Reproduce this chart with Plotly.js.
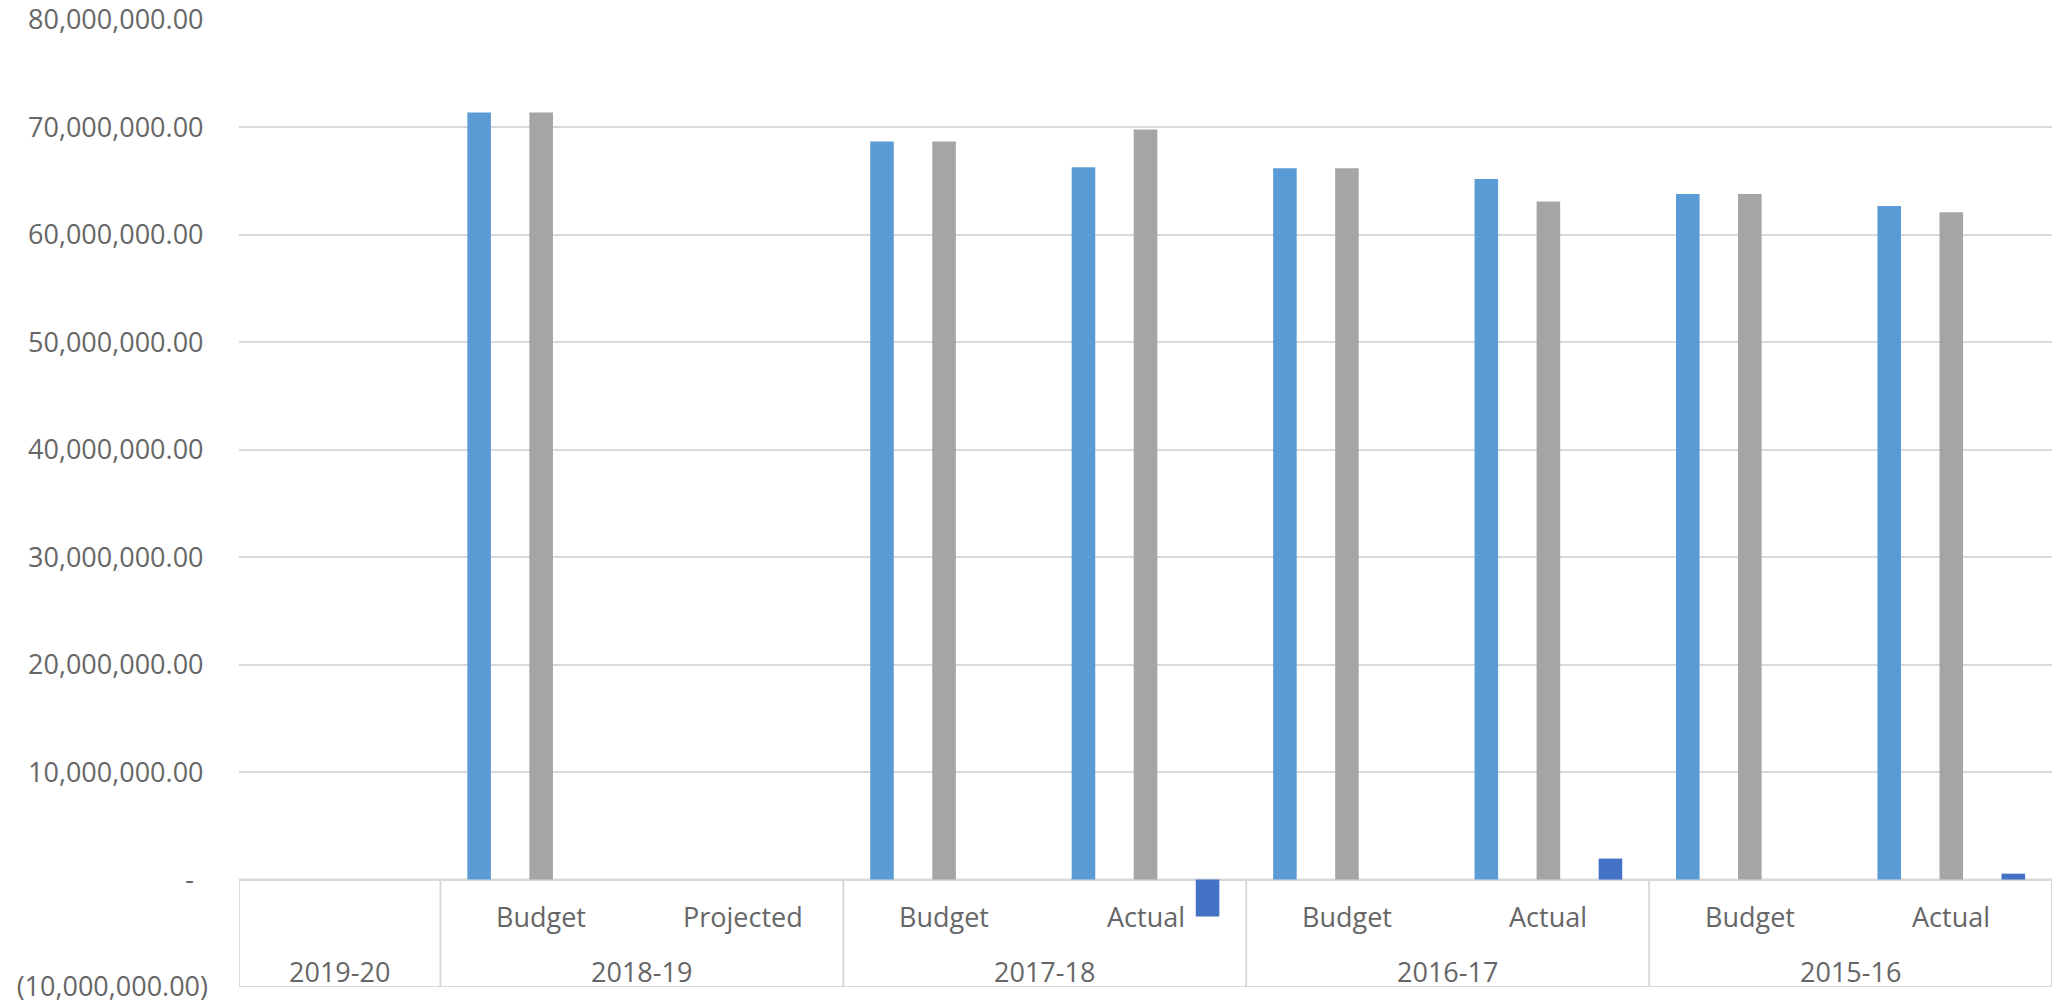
<!DOCTYPE html>
<html>
<head>
<meta charset="utf-8">
<script src="https://cdn.plot.ly/plotly-3.0.1.min.js"></script>
<style>
  html, body { margin: 0; padding: 0; background: #ffffff; }
  #chart { width: 2059px; height: 1005px; }
</style>
</head>
<body>
<div id="chart"></div>
<script>
// ---- Data ----
const years   = ["2019-20", "2018-19", "2018-19", "2017-18", "2017-18", "2016-17", "2016-17", "2015-16", "2015-16"];
const periods = ["", "Budget", "Projected", "Budget", "Actual", "Budget", "Actual", "Budget", "Actual"];

const seriesBlue = [null, 71400000, null, 68700000, 66300000, 66200000, 65200000, 63800000, 62700000];
const seriesGray = [null, 71400000, null, 68700000, 69800000, 66200000, 63100000, 63800000, 62100000];
const seriesDark = [null, null, null, null, -3450000, null, 1950000, null, 550000];

const yTickValues = [-10000000, 0, 10000000, 20000000, 30000000, 40000000, 50000000, 60000000, 70000000, 80000000];

// ---- Build ----
const categories = years.map((y, i) => y + " | " + (periods[i] || "-"));

function fmt(v) {
  const s = Math.abs(v).toLocaleString("en-US", {minimumFractionDigits: 2, maximumFractionDigits: 2});
  if (v === 0) return "-\u00a0\u00a0";
  if (v < 0) return "(" + s + ")";
  return s + "\u2009";
}

const textColor = "#666666";
const lineColor = "#D9D9D9";
const fontFamily = "'Open Sans', 'Noto Sans', sans-serif";

const traces = [
  {type: "bar", name: "Series 1", x: categories, y: seriesBlue, marker: {color: "#5B9BD5"}, hoverinfo: "x+y"},
  {type: "bar", name: "Series 2", x: categories, y: seriesGray, marker: {color: "#A5A5A5"}, hoverinfo: "x+y"},
  {type: "bar", name: "Series 3", x: categories, y: seriesDark, marker: {color: "#4472C4"}, hoverinfo: "x+y"}
];

const yMin = yTickValues[0];
const subLabelY = -3440000;
const groupLabelY = -8560000;

// Category label box (Excel-style multi-level axis)
const shapes = [];
const n = categories.length;
shapes.push({type: "line", xref: "x", yref: "y", x0: -0.5, x1: n - 0.5, y0: 0, y1: 0, line: {color: lineColor, width: 2}, layer: "below"});
shapes.push({type: "line", xref: "x", yref: "y", x0: -0.5, x1: n - 0.5, y0: yMin, y1: yMin, line: {color: lineColor, width: 2}, layer: "below"});
const boundaries = [-0.5];
for (let i = 1; i < n; i++) if (years[i] !== years[i - 1]) boundaries.push(i - 0.5);
boundaries.push(n - 0.5);
boundaries.forEach(b => shapes.push({type: "line", xref: "x", yref: "y", x0: b, x1: b, y0: 0, y1: yMin, line: {color: lineColor, width: 2}, layer: "below"}));

const annotations = [];
periods.forEach((p, i) => {
  if (p) annotations.push({xref: "x", yref: "y", x: i, y: subLabelY, text: p, showarrow: false,
    font: {family: fontFamily, size: 27, color: textColor}, xanchor: "center", yanchor: "middle"});
});
for (let k = 0; k < boundaries.length - 1; k++) {
  const a = boundaries[k] + 0.5, b = boundaries[k + 1] - 0.5;
  annotations.push({xref: "x", yref: "y", x: (a + b) / 2, y: groupLabelY, text: years[a], showarrow: false,
    font: {family: fontFamily, size: 27, color: textColor}, xanchor: "center", yanchor: "middle"});
}

const layout = {
  width: 2059, height: 1005,
  margin: {l: 239, r: 7, t: 20, b: 18, pad: 0},
  paper_bgcolor: "#ffffff", plot_bgcolor: "#ffffff",
  showlegend: false,
  barmode: "group",
  bargap: 0.076,
  bargroupgap: 0.62,
  font: {family: fontFamily, size: 27, color: textColor},
  xaxis: {type: "category", categoryorder: "array", categoryarray: categories,
    range: [-0.5, n - 0.5], showticklabels: false, showgrid: false, zeroline: false, showline: false, ticks: "", automargin: false},
  yaxis: {range: [yMin, yTickValues[yTickValues.length - 1]], tickmode: "array", tickvals: yTickValues,
    ticktext: yTickValues.map(fmt), showgrid: true, gridcolor: lineColor, gridwidth: 2,
    zeroline: false, showline: false, ticks: "", ticklabelstandoff: 30, automargin: false,
    tickfont: {family: fontFamily, size: 27, color: textColor}},
  shapes: shapes,
  annotations: annotations
};

Plotly.newPlot("chart", traces, layout, {displayModeBar: false, staticPlot: true});
</script>
</body>
</html>
